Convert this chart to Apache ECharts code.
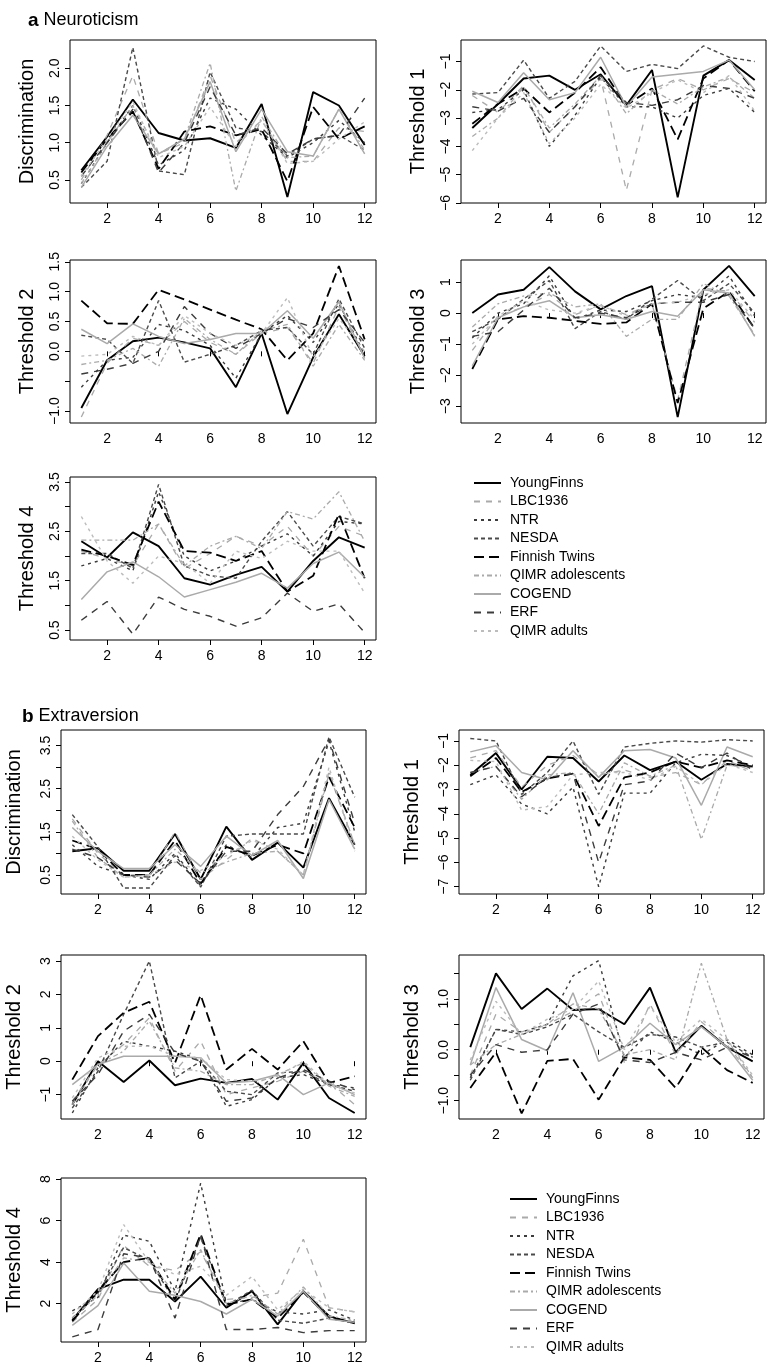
<!DOCTYPE html>
<html><head><meta charset="utf-8">
<script src="https://cdn.jsdelivr.net/npm/echarts@6/dist/echarts.min.js"></script>
<style>html,body{margin:0;padding:0;background:#fff}#c{width:767px;height:1372px}</style>
</head><body><div id="c"></div>
<script>
// ---------- data ----------
const items = [1,2,3,4,5,6,7,8,9,10,11,12];
const xTicks = [2,4,6,8,10,12];
const seriesNames = ['YoungFinns','LBC1936','NTR','NESDA','Finnish Twins','QIMR adolescents','COGEND','ERF','QIMR adults'];

// rows follow seriesNames order
const aDiscrimination = [
  [0.63,1.08,1.58,1.13,1.03,1.06,0.93,1.52,0.27,1.68,1.50,0.97],
  [0.50,1.10,1.90,0.85,1.00,1.90,1.00,1.30,0.75,0.75,1.20,1.15],
  [0.45,1.00,1.50,0.70,0.90,1.60,1.45,1.10,0.80,1.00,1.30,1.00],
  [0.40,0.75,2.28,0.62,0.57,1.95,1.20,1.15,0.82,1.05,1.10,0.90],
  [0.60,1.05,1.42,0.65,1.15,1.22,1.10,1.18,0.48,1.48,1.05,1.22],
  [0.45,1.00,1.50,0.85,1.05,2.07,0.35,1.35,0.80,0.82,1.45,0.90],
  [0.40,0.95,1.37,0.85,1.05,1.82,0.88,1.45,0.88,0.82,1.45,0.85],
  [0.55,1.00,1.45,0.60,1.00,1.75,1.10,1.20,0.85,1.05,1.10,1.60],
  [0.55,1.05,1.55,0.80,0.95,1.48,0.95,1.30,0.72,0.75,1.05,1.28]
];
const aThreshold1 = [
  [-3.35,-2.5,-1.6,-1.5,-2.0,-1.45,-2.55,-1.3,-5.8,-1.5,-0.95,-1.65],
  [-2.2,-2.8,-1.85,-3.5,-2.6,-1.6,-5.55,-2.0,-1.6,-2.0,-1.6,-2.1],
  [-2.8,-2.7,-2.0,-4.0,-2.9,-1.55,-2.6,-2.6,-3.0,-2.2,-1.95,-2.8],
  [-2.15,-2.1,-0.95,-2.3,-1.7,-0.45,-1.35,-1.1,-1.25,-0.45,-0.85,-1.0],
  [-3.2,-2.5,-1.95,-2.8,-2.1,-1.2,-2.55,-1.95,-3.75,-1.6,-0.95,-2.05],
  [-3.65,-3.0,-1.9,-3.35,-2.5,-1.5,-2.85,-2.0,-2.5,-1.9,-1.55,-2.3],
  [-2.05,-2.45,-1.4,-2.35,-2.1,-0.85,-2.6,-1.55,-1.45,-1.35,-0.95,-2.0],
  [-2.6,-2.75,-2.3,-3.5,-2.6,-1.5,-2.45,-2.55,-2.35,-1.85,-1.95,-2.3],
  [-4.15,-3.0,-2.1,-3.9,-3.0,-1.8,-2.65,-2.1,-1.65,-2.1,-1.5,-2.75]
];
const aThreshold2 = [
  [-0.95,-0.15,0.17,0.23,0.15,0.05,-0.6,0.3,-1.05,-0.1,0.62,-0.08],
  [-1.1,-0.2,0.22,0.1,0.5,0.15,-0.05,0.3,0.4,-0.2,0.75,-0.1],
  [-0.6,-0.15,-0.1,0.45,0.35,0.1,-0.45,0.3,0.6,0.15,0.8,-0.05],
  [0.27,0.2,-0.2,0.85,-0.18,-0.05,0.1,0.35,0.4,-0.05,0.88,0.05],
  [0.85,0.47,0.46,1.03,0.87,0.7,0.53,0.37,-0.15,0.3,1.43,0.2],
  [-0.22,-0.15,0.05,-0.25,0.55,0.2,-0.05,0.35,0.45,-0.25,0.45,-0.15],
  [0.37,0.13,0.46,0.25,0.13,0.2,0.3,0.3,0.68,0.22,0.83,-0.12],
  [-0.38,-0.3,-0.2,0.0,0.75,0.3,0.05,0.3,0.55,0.4,0.7,0.15],
  [-0.08,-0.05,0.25,0.1,0.6,0.3,0.1,0.3,0.9,-0.1,0.55,0.0]
];
const aThreshold3 = [
  [0.0,0.6,0.75,1.48,0.7,0.12,0.55,0.87,-3.35,0.75,1.52,0.55],
  [-1.2,-0.1,0.2,0.6,-0.05,0.25,-0.05,0.3,-2.8,0.8,0.7,-0.3],
  [-0.8,0.0,0.3,1.2,-0.2,0.1,0.05,0.4,0.6,0.5,1.2,-0.1],
  [-0.6,-0.2,0.45,1.05,-0.5,0.05,-0.2,0.45,1.05,0.4,0.95,0.0],
  [-1.8,-0.2,-0.1,-0.15,-0.25,-0.35,-0.3,0.3,-2.9,0.15,0.7,-0.5],
  [-0.45,0.3,0.55,0.65,0.2,0.3,-0.75,-0.2,-0.2,0.95,0.55,-0.7],
  [-1.7,-0.15,0.2,0.4,-0.15,-0.05,-0.2,0.05,-0.1,0.75,0.65,-0.75],
  [-0.75,-0.6,0.1,0.8,-0.15,0.0,-0.15,0.3,0.35,0.35,0.6,-0.5],
  [-1.0,-0.1,0.4,0.1,0.0,0.25,-0.1,0.3,0.35,0.6,0.75,-0.2]
];
const aThreshold4 = [
  [2.3,1.97,2.48,2.2,1.55,1.42,1.62,1.78,1.28,1.9,2.38,2.17],
  [2.1,1.95,1.8,2.65,1.75,2.05,2.4,2.2,2.6,2.0,2.6,2.4],
  [1.8,1.95,1.7,3.3,2.0,1.7,1.9,2.2,2.45,2.0,2.7,2.65],
  [2.05,2.05,1.75,3.45,1.8,1.6,1.55,2.3,2.9,2.2,2.8,2.65],
  [2.13,2.0,1.82,3.1,2.1,2.07,1.9,2.1,1.28,1.6,2.85,1.55],
  [2.32,2.32,2.32,2.65,1.8,2.2,2.4,2.15,2.9,2.75,3.3,2.3],
  [1.12,1.68,1.88,1.58,1.17,1.32,1.47,1.65,1.35,1.85,2.08,1.57],
  [0.7,1.08,0.42,1.17,0.92,0.78,0.58,0.75,1.25,0.88,1.03,0.45],
  [2.8,1.9,1.45,2.0,1.85,1.45,2.1,1.95,2.3,2.1,2.1,1.25]
];
const bDiscrimination = [
  [1.05,1.12,0.6,0.6,1.45,0.4,1.62,0.85,1.25,0.67,2.28,1.2],
  [1.8,1.0,0.5,0.5,1.5,0.4,0.85,1.35,1.05,0.5,2.85,1.2],
  [1.2,0.7,0.5,0.4,1.0,0.25,1.2,0.9,1.6,1.7,3.6,1.5],
  [1.9,1.15,0.2,0.2,0.95,0.22,1.4,1.45,1.45,1.45,3.7,2.3],
  [1.3,1.1,0.5,0.5,1.3,0.3,1.15,0.95,1.2,1.0,2.77,1.6],
  [1.75,0.9,0.45,0.5,1.1,0.55,0.8,1.0,1.05,0.5,2.9,1.2],
  [1.6,1.05,0.65,0.65,1.2,0.7,1.4,0.95,1.3,0.42,2.25,1.1],
  [1.1,0.9,0.5,0.45,0.85,0.3,1.05,1.05,1.9,2.55,3.65,1.7],
  [1.4,0.85,0.45,0.5,0.8,0.6,0.95,1.3,1.1,0.5,3.0,1.05]
];
const bThreshold1 = [
  [-2.4,-1.5,-3.0,-1.65,-1.7,-2.67,-1.6,-2.2,-1.85,-2.6,-1.95,-2.05],
  [-1.7,-1.4,-2.9,-2.0,-1.6,-2.4,-2.2,-2.5,-2.3,-2.8,-1.8,-2.25],
  [-2.8,-2.4,-3.6,-4.0,-2.9,-7.0,-3.15,-3.15,-1.9,-1.55,-1.6,-2.05],
  [-0.9,-1.0,-3.2,-2.3,-1.0,-3.2,-1.25,-1.1,-1.0,-1.05,-0.95,-1.0],
  [-2.45,-1.7,-3.1,-2.55,-2.35,-4.5,-2.5,-2.3,-1.85,-2.1,-1.8,-2.0],
  [-2.3,-2.05,-3.4,-2.4,-2.3,-4.0,-1.9,-2.45,-2.0,-5.05,-2.0,-2.1],
  [-1.45,-1.2,-2.3,-2.6,-1.4,-2.5,-1.4,-1.35,-1.7,-3.65,-1.25,-1.65],
  [-2.3,-2.05,-3.3,-2.5,-2.35,-6.0,-2.8,-2.65,-1.5,-2.1,-1.5,-2.2],
  [-1.8,-1.85,-3.85,-3.7,-2.4,-2.3,-2.3,-2.6,-2.05,-2.8,-1.95,-2.3]
];
const bThreshold2 = [
  [-1.3,0.0,-0.62,0.02,-0.72,-0.52,-0.65,-0.53,-1.15,-0.05,-1.1,-1.55],
  [-1.2,-0.1,0.5,1.3,-0.3,0.6,-1.0,-0.8,-0.6,-0.3,-0.65,-1.3],
  [-1.55,-0.2,0.6,0.45,0.3,0.05,-1.35,-1.15,-0.5,-0.4,-0.7,-0.8],
  [-1.4,-0.3,1.4,3.0,-0.5,0.0,-0.9,-1.0,-0.35,-0.3,-0.7,-0.9],
  [-0.55,0.75,1.45,1.78,-0.05,1.98,-0.25,0.37,-0.25,0.6,-0.65,-0.45],
  [-1.3,-0.1,0.3,1.2,-0.2,-0.3,-0.7,-0.7,-0.4,-0.05,-0.75,-1.05],
  [-0.7,-0.1,0.15,0.15,0.15,0.1,-0.65,-0.6,-0.4,-1.0,-0.65,-1.0],
  [-1.2,-0.4,0.9,1.4,0.25,0.0,-1.2,-1.1,-0.5,-0.25,-0.6,-0.85],
  [-1.1,0.1,0.45,0.45,0.15,0.1,-0.55,-0.6,-0.45,0.0,-0.7,-0.95]
];
const bThreshold3 = [
  [0.05,1.5,0.8,1.2,0.78,0.8,0.5,1.22,-0.05,0.47,0.05,-0.23],
  [-0.5,0.7,0.35,0.5,0.75,1.1,-0.25,0.9,-0.1,0.55,0.1,-0.55],
  [-0.55,0.4,0.35,0.5,1.45,1.75,-0.15,0.35,0.15,-0.1,0.2,-0.1],
  [-0.6,0.4,0.3,0.45,0.7,0.35,0.05,0.3,0.25,0.05,0.15,-0.15],
  [-0.75,-0.05,-1.25,-0.22,-0.18,-0.98,-0.15,-0.2,-0.75,0.05,-0.4,-0.65],
  [-0.3,0.1,0.3,0.5,0.9,0.8,-0.1,0.0,-0.2,1.7,0.2,-0.55],
  [-0.3,1.22,0.2,-0.02,1.12,-0.23,0.05,0.52,0.1,0.45,0.05,-0.6],
  [-0.5,0.1,-0.05,0.0,0.7,0.9,-0.2,-0.25,-0.05,-0.2,0.05,-0.15],
  [-0.2,0.95,0.3,0.6,0.8,1.35,0.0,0.85,0.15,0.6,0.2,-0.5]
];
const bThreshold4 = [
  [1.2,2.7,3.15,3.15,2.1,3.3,1.8,2.6,1.0,2.6,1.4,1.05],
  [1.1,2.2,4.8,3.8,3.6,4.5,2.2,2.3,2.5,5.1,1.8,1.6],
  [1.65,2.3,5.3,5.0,2.6,7.8,2.0,2.2,1.6,1.5,1.7,1.2],
  [1.3,2.5,4.7,4.1,2.1,5.2,1.9,2.65,1.2,1.05,1.3,1.05],
  [1.15,2.6,4.0,4.2,2.2,5.35,1.95,2.2,1.3,2.55,1.3,1.1],
  [1.3,2.4,4.2,4.0,2.5,4.6,2.0,2.4,1.5,2.8,1.4,1.2],
  [0.95,1.9,3.95,2.6,2.4,2.1,1.5,2.2,1.4,2.6,1.25,1.1],
  [0.4,0.75,4.4,4.2,1.3,5.3,0.75,0.75,0.85,0.6,0.7,0.7],
  [1.5,2.6,5.8,4.0,3.4,3.8,2.4,3.3,1.7,2.7,1.8,1.6]
];

// y tick values / labelled values per panel
const aDiscTicks = [0.5,1.0,1.5,2.0], aDiscLabels = [0.5,1.0,1.5,2.0];
const aT1Ticks = [-6,-5,-4,-3,-2,-1], aT1Labels = [-6,-5,-4,-3,-2,-1];
const aT2Ticks = [-1,-0.5,0,0.5,1,1.5], aT2Labels = [-1,0,0.5,1,1.5];
const aT3Ticks = [-3,-2,-1,0,1], aT3Labels = [-3,-2,-1,0,1];
const aT4Ticks = [0.5,1,1.5,2,2.5,3,3.5], aT4Labels = [0.5,1.5,2.5,3.5];
const bDiscTicks = [0.5,1,1.5,2,2.5,3,3.5], bDiscLabels = [0.5,1.5,2.5,3.5];
const bT1Ticks = [-7,-6,-5,-4,-3,-2,-1], bT1Labels = [-7,-6,-5,-4,-3,-2,-1];
const bT2Ticks = [-1,0,1,2,3], bT2Labels = [-1,0,1,2,3];
const bT3Ticks = [-1,-0.5,0,0.5,1,1.5], bT3Labels = [-1,0,1];
const bT4Ticks = [2,4,6,8], bT4Labels = [2,4,6,8];

// ---------- layout / style ----------
const FONT = 'Liberation Sans, Arial, Helvetica, sans-serif';
const panels = [
  {data:aDiscrimination, name:'Discrimination', min:0.19, max:2.38, ticks:aDiscTicks, labels:aDiscLabels, dec:1, gap:33, g:[70,40,306,163]},
  {data:aThreshold1, name:'Threshold 1', min:-6.0, max:-0.24, ticks:aT1Ticks, labels:aT1Labels, dec:0, gap:33, g:[461,40,305,163]},
  {data:aThreshold2, name:'Threshold 2', min:-1.2, max:1.53, ticks:aT2Ticks, labels:aT2Labels, dec:1, gap:33, g:[70,260,306,163]},
  {data:aThreshold3, name:'Threshold 3', min:-3.54, max:1.71, ticks:aT3Ticks, labels:aT3Labels, dec:0, gap:33, g:[461,260,305,163]},
  {data:aThreshold4, name:'Threshold 4', min:0.30, max:3.60, ticks:aT4Ticks, labels:aT4Labels, dec:1, gap:33, g:[70,477,306,163]},
  {data:bDiscrimination, name:'Discrimination', min:0.06, max:3.86, ticks:bDiscTicks, labels:bDiscLabels, dec:1, gap:37, g:[61,730,305,164]},
  {data:bThreshold1, name:'Threshold 1', min:-7.3, max:-0.55, ticks:bT1Ticks, labels:bT1Labels, dec:0, gap:37, g:[459,730,305,164]},
  {data:bThreshold2, name:'Threshold 2', min:-1.73, max:3.18, ticks:bT2Ticks, labels:bT2Labels, dec:0, gap:37, g:[61,955,305,164]},
  {data:bThreshold3, name:'Threshold 3', min:-1.36, max:1.86, ticks:bT3Ticks, labels:bT3Labels, dec:1, gap:37, g:[459,955,305,164]},
  {data:bThreshold4, name:'Threshold 4', min:0.15, max:8.05, ticks:bT4Ticks, labels:bT4Labels, dec:0, gap:37, g:[61,1178,305,164]}
];
const styles = [
  {color:'#000000', type:'solid', width:1.9},
  {color:'#aaaaaa', type:[6,6], width:1.3},
  {color:'#3c3c3c', type:[3,4], width:1.4},
  {color:'#4a4a4a', type:[4,3], width:1.4},
  {color:'#000000', type:[10,5], width:1.8},
  {color:'#aaaaaa', type:[5,3,2,3], width:1.3},
  {color:'#aaaaaa', type:'solid', width:1.5},
  {color:'#3c3c3c', type:[7,6], width:1.4},
  {color:'#bcbcbc', type:[3,4], width:1.4}
];
const fmt = (v, dec) => {
  const s = Math.abs(v).toFixed(dec);
  return (v < 0 ? '\u2212' : '') + s;
};

const grid = [], xAxis = [], yAxis = [], series = [];
panels.forEach((p, i) => {
  grid.push({left:p.g[0], top:p.g[1], width:p.g[2], height:p.g[3], show:true, borderColor:'#000', borderWidth:1, backgroundColor:'transparent'});
  xAxis.push({
    type:'value', gridIndex:i, min:0.56, max:12.44,
    axisLine:{show:false}, splitLine:{show:false},
    axisTick:{show:true, customValues:xTicks, length:5, lineStyle:{color:'#000', width:1}},
    axisLabel:{customValues:xTicks, color:'#000', fontFamily:FONT, fontSize:14, margin:9}
  });
  yAxis.push({
    type:'value', gridIndex:i, min:p.min, max:p.max,
    name:p.name, nameLocation:'middle', nameGap:p.gap,
    nameTextStyle:{color:'#000', fontFamily:FONT, fontSize:20},
    axisLine:{show:false}, splitLine:{show:false},
    axisTick:{show:true, customValues:p.ticks, length:5, lineStyle:{color:'#000', width:1}},
    axisLabel:{customValues:p.labels, rotate:90, color:'#000', fontFamily:FONT, fontSize:14, margin:8,
               formatter:(v) => fmt(v, p.dec)}
  });
  p.data.forEach((row, k) => {
    const st = styles[k];
    series.push({
      type:'line', name:seriesNames[k], xAxisIndex:i, yAxisIndex:i,
      data: row.map((v, j) => [items[j], v]),
      symbol:'none', showSymbol:false, silent:true,
      lineStyle:{color:st.color, type:st.type, width:st.width},
      itemStyle:{color:st.color},
      z: 2 + k
    });
  });
});

const legendBase = {
  orient:'vertical', data:seriesNames, itemWidth:27, itemHeight:12, itemGap:4.5,
  padding:0, selectedMode:false,
  itemStyle:{opacity:0, borderWidth:0},
  textStyle:{color:'#000', fontFamily:FONT, fontSize:14, padding:[0,0,0,4]}
};

const chart = echarts.init(document.getElementById('c'), null, {renderer:'canvas'});
chart.setOption({
  animation:false,
  backgroundColor:'#fff',
  title:[
    {text:'{b|a} Neuroticism', left:23, top:6, textStyle:{rich:{b:{fontWeight:'bold', fontSize:19, fontFamily:FONT, color:'#000'}}, fontSize:18, fontWeight:'normal', fontFamily:FONT, color:'#000'}},
    {text:'{b|b} Extraversion', left:17, top:702, textStyle:{rich:{b:{fontWeight:'bold', fontSize:19, fontFamily:FONT, color:'#000'}}, fontSize:18, fontWeight:'normal', fontFamily:FONT, color:'#000'}}
  ],
  legend:[
    Object.assign({left:473, top:476}, legendBase),
    Object.assign({left:509, top:1192}, legendBase)
  ],
  grid, xAxis, yAxis, series
});
</script>
</body></html>
